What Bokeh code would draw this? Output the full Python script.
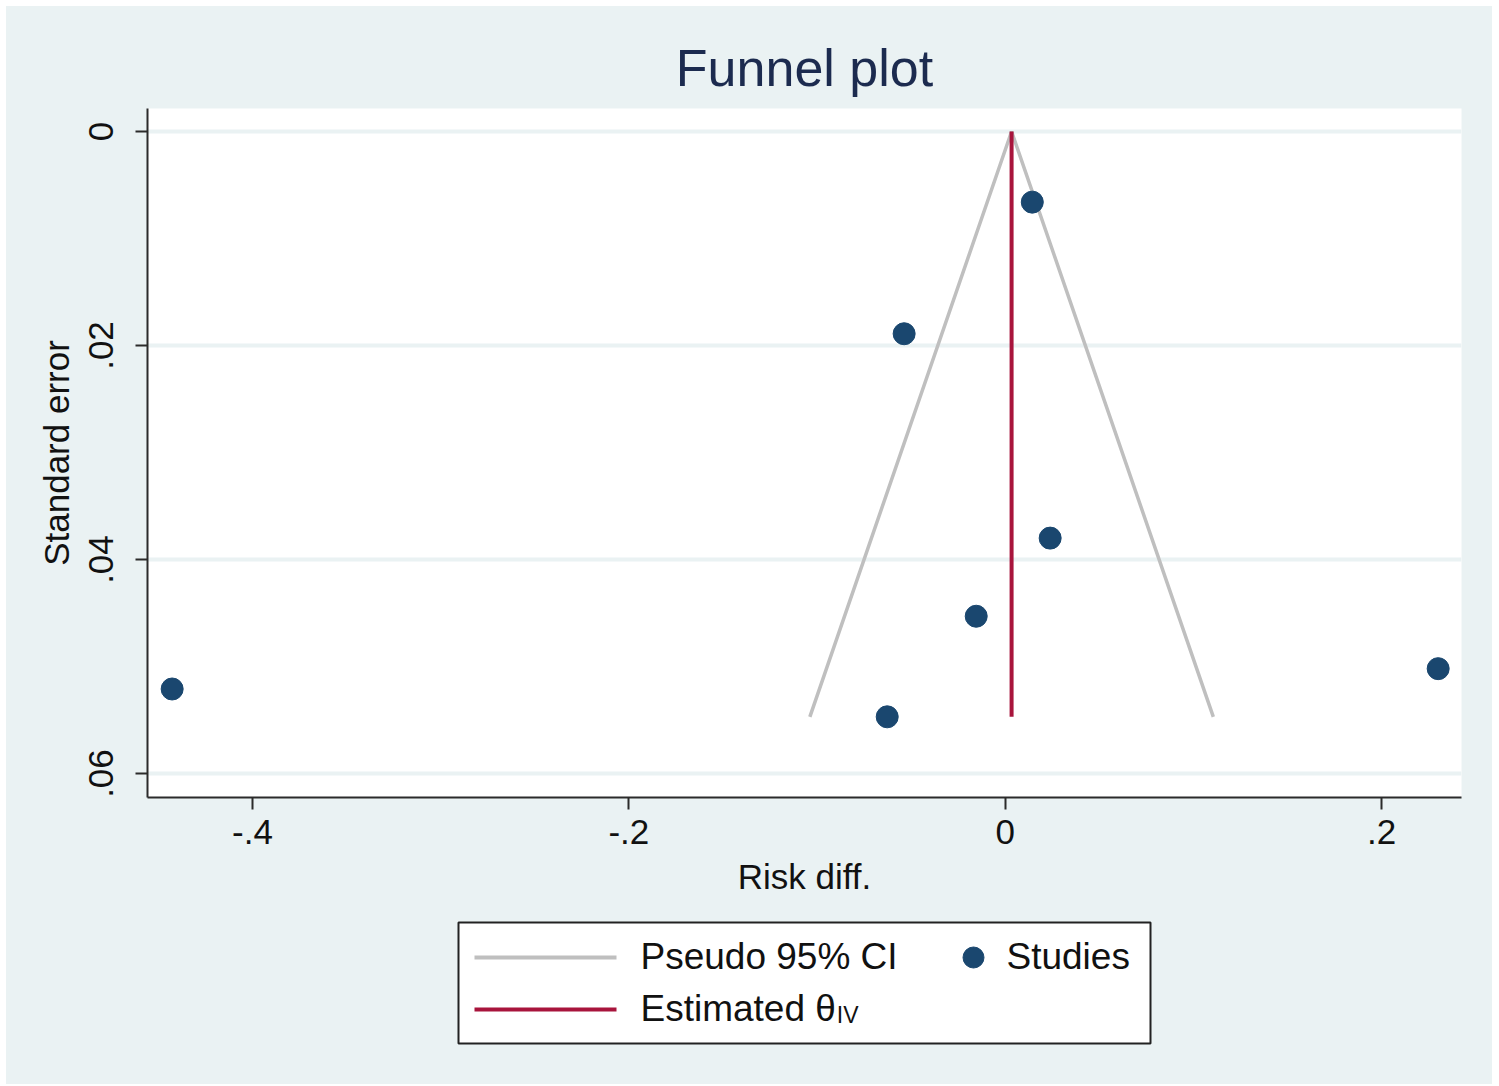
from bokeh.plotting import figure
from bokeh.layouts import column
from bokeh.models import Range1d, FixedTicker
from bokeh.core.properties import value
from bokeh.embed import file_html
from bokeh.resources import INLINE

# ---- data ----
risk_diff = [0.0144, -0.0537, 0.0239, -0.0154, 0.2301, -0.4427, -0.0627]
std_err = [0.0066, 0.0189, 0.0380, 0.0453, 0.0502, 0.0521, 0.0547]
theta_iv = 0.0034
z95 = 1.96
x_ticks = [-0.4, -0.2, 0.0, 0.2]
x_tick_labels = ["-.4", "-.2", "0", ".2"]
y_ticks = [0.0, 0.02, 0.04, 0.06]
y_tick_labels = ["0", ".02", ".04", ".06"]
legend_labels = ["Pseudo 95% CI", "Studies", "Estimated \u03b8"]
legend_sub = "IV"

BG = "#EAF2F3"
NAVY = "#1A476F"
CI_GRAY = "#BFBFBF"
RED = "#A8143C"
FONT = "Liberation Sans"

se_max = max(std_err)
funnel_x = [theta_iv - z95 * se_max, theta_iv, theta_iv + z95 * se_max]
funnel_y = [se_max, 0.0, se_max]

p = figure(width=1486, height=903, output_backend="svg", toolbar_location=None,
           x_range=Range1d(-0.4558, 0.2425), y_range=Range1d(0.06224, -0.00215),
           min_border_left=141, min_border_right=31, min_border_top=102, min_border_bottom=112,
           title="Funnel plot")
p.background_fill_color = "white"
p.border_fill_color = BG
p.outline_line_color = None

p.title.align = "center"
p.title.text_font = FONT
p.title.text_font_size = "52px"
p.title.text_font_style = "normal"
p.title.text_color = "#1C2B4F"
p.title.standoff = 23

p.xgrid.visible = False
p.ygrid.ticker = FixedTicker(ticks=y_ticks)
p.ygrid.grid_line_color = BG
p.ygrid.grid_line_width = 4

p.xaxis.ticker = FixedTicker(ticks=x_ticks)
p.xaxis.major_label_overrides = dict(zip(x_ticks, x_tick_labels))
p.yaxis.ticker = FixedTicker(ticks=y_ticks)
p.yaxis.major_label_overrides = dict(zip(y_ticks, y_tick_labels))
p.xaxis.axis_label = "Risk diff."
p.yaxis.axis_label = "Standard error"
p.yaxis.major_label_orientation = "vertical"
for ax in (p.xaxis, p.yaxis):
    ax.axis_line_color = "#2B2B2B"
    ax.axis_line_width = 2
    ax.major_tick_line_color = "#2B2B2B"
    ax.major_tick_line_width = 2
    ax.major_tick_out = 12
    ax.major_tick_in = 0
    ax.minor_tick_line_color = None
    ax.major_label_text_font = FONT
    ax.major_label_text_font_size = "35px"
    ax.major_label_text_color = "#111111"
    ax.axis_label_text_font = FONT
    ax.axis_label_text_font_size = "35px"
    ax.axis_label_text_font_style = "normal"
    ax.axis_label_text_color = "#111111"
p.xaxis.major_label_standoff = 10
p.xaxis.axis_label_standoff = 10
p.yaxis.major_label_standoff = 22
p.yaxis.axis_label_standoff = 11

p.line(funnel_x, funnel_y, line_color=CI_GRAY, line_width=3.5)
p.segment(x0=[theta_iv], y0=[0.0], x1=[theta_iv], y1=[se_max], line_color=RED, line_width=4)
p.scatter(risk_diff, std_err, size=22, marker="circle", fill_color=NAVY, line_color=NAVY)

# ---- legend panel (drawn below the chart, in page pixel coordinates) ----
lg = figure(width=1486, height=175, output_backend="svg", toolbar_location=None,
            x_axis_type=None, y_axis_type=None,
            x_range=Range1d(147, 1461), y_range=Range1d(1084, 909),
            min_border_left=141, min_border_right=31, min_border_top=0, min_border_bottom=0)
lg.grid.visible = False
lg.background_fill_color = BG
lg.border_fill_color = BG
lg.outline_line_color = None

lg.quad(left=[458], right=[1150], top=[922], bottom=[1043], fill_color="white",
        line_color="#222222", line_width=2)
lg.segment(x0=[474], y0=[957], x1=[616], y1=[957], line_color=CI_GRAY, line_width=4)
lg.segment(x0=[474], y0=[1009], x1=[616], y1=[1009], line_color=RED, line_width=4)
lg.scatter([973], [957], size=21, marker="circle", fill_color=NAVY, line_color=NAVY)
LFS = 37
SFS = 23
lg.text(x=[640, 1006, 640], y=[971 - 0.4 * LFS, 971 - 0.4 * LFS, 1023 - 0.4 * LFS],
        text=legend_labels,
        text_font=value(FONT), text_font_size=f"{LFS}px", text_color="#111111",
        text_baseline="alphabetic", text_align="left")
theta_w = 5.28 * LFS
lg.text(x=[640 + theta_w + 1], y=[1024 - 0.4 * SFS], text=[legend_sub],
        text_font=value(FONT), text_font_size=f"{SFS}px", text_color="#111111",
        text_baseline="alphabetic", text_align="left")

layout = column(p, lg, spacing=0)
layout.margin = (6, 0, 0, 6)
layout.styles = {"background-color": BG}
open("out.html", "w").write(file_html(layout, INLINE))
